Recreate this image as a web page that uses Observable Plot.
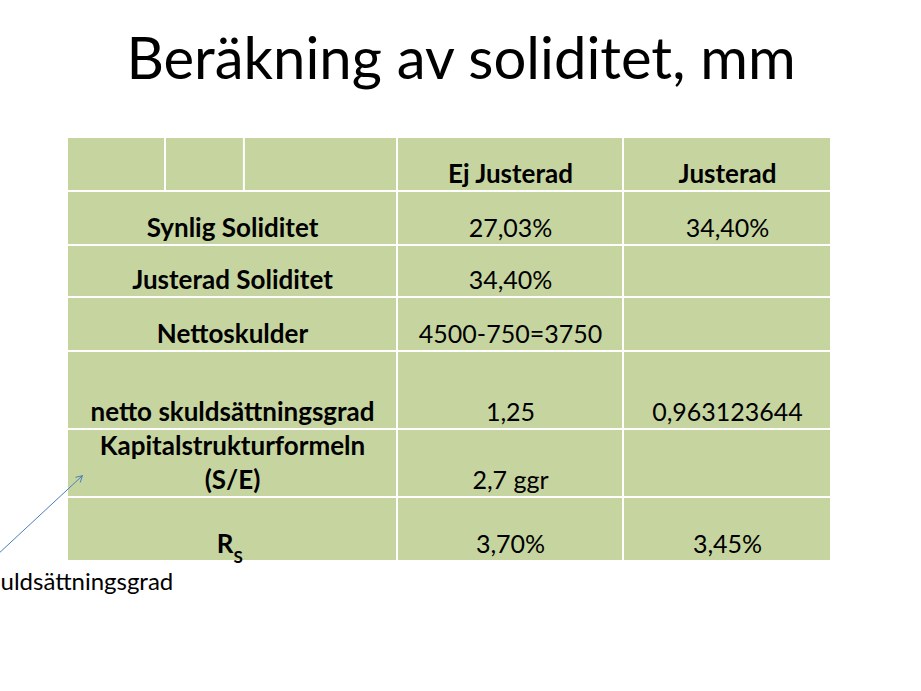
<!DOCTYPE html>
<html><head><meta charset="utf-8">
<script src="https://cdn.jsdelivr.net/npm/d3@7"></script>
<script src="https://cdn.jsdelivr.net/npm/@observablehq/plot@0.6"></script>
<style>body{margin:0;background:#fff;} svg{display:block;}</style>
</head><body><div id="chart"></div>
<script>
const title = "Beräkning av soliditet, mm";
const headers = ["Ej Justerad", "Justerad"];
const rowLabels = ["Synlig Soliditet", "Justerad Soliditet", "Nettoskulder", "netto skuldsättningsgrad", "Kapitalstrukturformeln\n(S/E)", "R"];
const rowLabelSubs = ["", "", "", "", "", "S"];
const ejJusterad = ["27,03%", "34,40%", "4500-750=3750", "1,25", "2,7 ggr", "3,70%"];
const justerad = ["34,40%", "", "", "0,963123644", "", "3,45%"];
const annotation = "uldsättningsgrad";

// table structure (column index units: 0 = label column, 1 = Ej Justerad, 2 = Justerad)
const headerSplits = [0, 0.297, 0.536, 1];
const cells = [];
for (let i = 0; i < headerSplits.length - 1; i++) cells.push({x1: headerSplits[i], x2: headerSplits[i + 1], y1: 0, y2: 1});
headers.forEach((h, j) => cells.push({x1: j + 1, x2: j + 2, y1: 0, y2: 1}));
const rows = rowLabels.map((label, i) => ({row: i + 1, label, sub: rowLabelSubs[i], ej: ejJusterad[i], jus: justerad[i]}));
rows.forEach(r => { for (let j = 0; j < 3; j++) cells.push({x1: j, x2: j + 1, y1: r.row, y2: r.row + 1}); });
const headerCells = headers.map((h, j) => ({col: j + 1.5, text: h}));
const plainRows = rows.filter(r => !r.sub);
const subRows = rows.filter(r => r.sub);
const arrowData = [{x1: -0.218, y1: 6.92, x2: 0.045, y2: 5.68}];

const fill = "#c6d5a0";
const chart = Plot.plot({
  width: 921,
  height: 691,
  margin: 0,
  style: {fontFamily: "Lato, 'Open Sans', sans-serif", background: "#fff", color: "#000"},
  x: {type: "linear", domain: [0, 1, 2, 3], range: [67, 397, 623, 831], axis: null},
  y: {type: "linear", domain: [0, 1, 2, 3, 4, 5, 6, 7], range: [137, 191, 245, 297, 351, 429, 497, 561], axis: null},
  marks: [
    Plot.rect(cells, {x1: "x1", x2: "x2", y1: "y1", y2: "y2", fill, inset: 1}),
    Plot.text(headerCells, {x: "col", y: 1, text: "text", dy: -9, lineAnchor: "bottom", fontWeight: "bold", fontSize: 26, fill: "#000"}),
    Plot.text(plainRows, {x: 0.5, y: d => d.row + 1, text: "label", dy: -9, lineAnchor: "bottom", lineHeight: 1.27, fontWeight: "bold", fontSize: 26, fill: "#000"}),
    Plot.text(subRows, {x: 0.5, y: d => d.row + 1, text: "label", dy: -9, dx: 1, textAnchor: "end", lineAnchor: "bottom", fontWeight: "bold", fontSize: 26, fill: "#000"}),
    Plot.text(subRows, {x: 0.5, y: d => d.row + 1, text: "sub", dy: 1, dx: 1, textAnchor: "start", lineAnchor: "bottom", fontWeight: "bold", fontSize: 17, fill: "#000"}),
    Plot.text(rows, {x: 1.5, y: d => d.row + 1, text: "ej", dy: -9, lineAnchor: "bottom", fontSize: 25, fill: "#000"}),
    Plot.text(rows, {x: 2.5, y: d => d.row + 1, text: "jus", dy: -9, lineAnchor: "bottom", fontSize: 25, fill: "#000"}),
    Plot.arrow(arrowData, {x1: "x1", y1: "y1", x2: "x2", y2: "y2", stroke: "#4a7ebb", strokeWidth: 1, headLength: 10}),
    Plot.text([title], {frameAnchor: "top", dy: 78, lineAnchor: "bottom", fontSize: 58, fill: "#000"}),
    Plot.text([annotation], {frameAnchor: "top-left", dy: 589, dx: 0, textAnchor: "start", lineAnchor: "bottom", fontSize: 24, fill: "#000"})
  ]
});
document.getElementById("chart").append(chart);
</script>
</body></html>
